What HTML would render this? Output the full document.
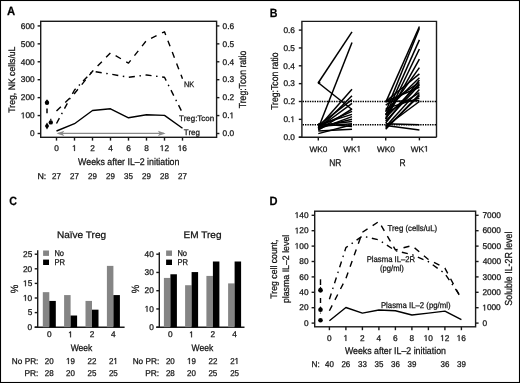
<!DOCTYPE html>
<html><head><meta charset="utf-8"><style>
html,body{margin:0;padding:0;background:#fff;}
svg{display:block;will-change:transform;}
text{font-family:"Liberation Sans", sans-serif;text-rendering:geometricPrecision;stroke:#111;stroke-width:0.25px;}
</style></head><body>
<svg width="520" height="383" viewBox="0 0 520 383">
<rect width="520" height="383" fill="#fff"/>
<rect x="0.5" y="0.5" width="519" height="382" fill="none" stroke="#000" stroke-width="1.1"/>
<text x="7.07" y="15.40" font-size="12" font-weight="bold" textLength="8.18" lengthAdjust="spacingAndGlyphs" fill="#000" >A</text>
<rect x="40.7" y="21.3" width="175.9" height="116" fill="none" stroke="#1a1a1a" stroke-width="1.4"/>
<line x1="37.60" y1="133.50" x2="40.70" y2="133.50" stroke="#1a1a1a" stroke-width="1.4" />
<line x1="216.50" y1="133.50" x2="219.40" y2="133.50" stroke="#1a1a1a" stroke-width="1.4" />
<text x="30.01" y="136.25" font-size="8.3" font-weight="normal" textLength="4.62" lengthAdjust="spacingAndGlyphs" fill="#111" >0</text>
<text x="222.58" y="136.25" font-size="8.3" font-weight="normal" textLength="11.54" lengthAdjust="spacingAndGlyphs" fill="#111" >0.0</text>
<line x1="37.60" y1="115.57" x2="40.70" y2="115.57" stroke="#1a1a1a" stroke-width="1.4" />
<line x1="216.50" y1="115.57" x2="219.40" y2="115.57" stroke="#1a1a1a" stroke-width="1.4" />
<path transform="translate(20.776,118.320) scale(0.004053,-0.004053)" d="M515,0 L515,1237 L197,1010 L197,1180 L530,1409 L696,1409 L696,0 Z" fill="#111" stroke="#111" stroke-width="0.25" vector-effect="non-scaling-stroke"/>
<text x="20.78" y="118.32" font-size="8.3" font-weight="normal" textLength="13.85" lengthAdjust="spacingAndGlyphs" fill="#111" > 00</text>
<path transform="translate(229.498,118.320) scale(0.004053,-0.004053)" d="M515,0 L515,1237 L197,1010 L197,1180 L530,1409 L696,1409 L696,0 Z" fill="#111" stroke="#111" stroke-width="0.25" vector-effect="non-scaling-stroke"/>
<text x="222.58" y="118.32" font-size="8.3" font-weight="normal" textLength="11.54" lengthAdjust="spacingAndGlyphs" fill="#111" >0. </text>
<line x1="37.60" y1="97.64" x2="40.70" y2="97.64" stroke="#1a1a1a" stroke-width="1.4" />
<line x1="216.50" y1="97.64" x2="219.40" y2="97.64" stroke="#1a1a1a" stroke-width="1.4" />
<text x="20.78" y="100.39" font-size="8.3" font-weight="normal" textLength="13.85" lengthAdjust="spacingAndGlyphs" fill="#111" >200</text>
<text x="222.58" y="100.39" font-size="8.3" font-weight="normal" textLength="11.54" lengthAdjust="spacingAndGlyphs" fill="#111" >0.2</text>
<line x1="37.60" y1="79.71" x2="40.70" y2="79.71" stroke="#1a1a1a" stroke-width="1.4" />
<line x1="216.50" y1="79.71" x2="219.40" y2="79.71" stroke="#1a1a1a" stroke-width="1.4" />
<text x="20.78" y="82.46" font-size="8.3" font-weight="normal" textLength="13.85" lengthAdjust="spacingAndGlyphs" fill="#111" >300</text>
<text x="222.58" y="82.46" font-size="8.3" font-weight="normal" textLength="11.54" lengthAdjust="spacingAndGlyphs" fill="#111" >0.3</text>
<line x1="37.60" y1="61.78" x2="40.70" y2="61.78" stroke="#1a1a1a" stroke-width="1.4" />
<line x1="216.50" y1="61.78" x2="219.40" y2="61.78" stroke="#1a1a1a" stroke-width="1.4" />
<text x="20.78" y="64.53" font-size="8.3" font-weight="normal" textLength="13.85" lengthAdjust="spacingAndGlyphs" fill="#111" >400</text>
<text x="222.58" y="64.53" font-size="8.3" font-weight="normal" textLength="11.54" lengthAdjust="spacingAndGlyphs" fill="#111" >0.4</text>
<line x1="37.60" y1="43.85" x2="40.70" y2="43.85" stroke="#1a1a1a" stroke-width="1.4" />
<line x1="216.50" y1="43.85" x2="219.40" y2="43.85" stroke="#1a1a1a" stroke-width="1.4" />
<text x="20.78" y="46.60" font-size="8.3" font-weight="normal" textLength="13.85" lengthAdjust="spacingAndGlyphs" fill="#111" >500</text>
<text x="222.58" y="46.60" font-size="8.3" font-weight="normal" textLength="11.54" lengthAdjust="spacingAndGlyphs" fill="#111" >0.5</text>
<line x1="37.60" y1="25.92" x2="40.70" y2="25.92" stroke="#1a1a1a" stroke-width="1.4" />
<line x1="216.50" y1="25.92" x2="219.40" y2="25.92" stroke="#1a1a1a" stroke-width="1.4" />
<text x="20.78" y="28.67" font-size="8.3" font-weight="normal" textLength="13.85" lengthAdjust="spacingAndGlyphs" fill="#111" >600</text>
<text x="222.58" y="28.67" font-size="8.3" font-weight="normal" textLength="11.54" lengthAdjust="spacingAndGlyphs" fill="#111" >0.6</text>
<line x1="56.50" y1="137.30" x2="56.50" y2="140.60" stroke="#1a1a1a" stroke-width="1.4" />
<text x="54.19" y="151.00" font-size="8.3" font-weight="normal" textLength="4.62" lengthAdjust="spacingAndGlyphs" fill="#111" >0</text>
<text x="52.06" y="178.60" font-size="8.4" font-weight="normal" textLength="8.88" lengthAdjust="spacingAndGlyphs" fill="#111" >27</text>
<line x1="74.50" y1="137.30" x2="74.50" y2="140.60" stroke="#1a1a1a" stroke-width="1.4" />
<path transform="translate(72.078,151.000) scale(0.004053,-0.004053)" d="M515,0 L515,1237 L197,1010 L197,1180 L530,1409 L696,1409 L696,0 Z" fill="#111" stroke="#111" stroke-width="0.25" vector-effect="non-scaling-stroke"/>
<text x="72.08" y="151.00" font-size="8.3" font-weight="normal" textLength="4.62" lengthAdjust="spacingAndGlyphs" fill="#111" > </text>
<text x="70.06" y="178.60" font-size="8.4" font-weight="normal" textLength="8.88" lengthAdjust="spacingAndGlyphs" fill="#111" >27</text>
<line x1="92.50" y1="137.30" x2="92.50" y2="140.60" stroke="#1a1a1a" stroke-width="1.4" />
<text x="90.19" y="151.00" font-size="8.3" font-weight="normal" textLength="4.62" lengthAdjust="spacingAndGlyphs" fill="#111" >2</text>
<text x="88.05" y="178.60" font-size="8.4" font-weight="normal" textLength="8.88" lengthAdjust="spacingAndGlyphs" fill="#111" >29</text>
<line x1="110.50" y1="137.30" x2="110.50" y2="140.60" stroke="#1a1a1a" stroke-width="1.4" />
<text x="108.22" y="151.00" font-size="8.3" font-weight="normal" textLength="4.62" lengthAdjust="spacingAndGlyphs" fill="#111" >4</text>
<text x="106.05" y="178.60" font-size="8.4" font-weight="normal" textLength="8.88" lengthAdjust="spacingAndGlyphs" fill="#111" >29</text>
<line x1="128.50" y1="137.30" x2="128.50" y2="140.60" stroke="#1a1a1a" stroke-width="1.4" />
<text x="126.16" y="151.00" font-size="8.3" font-weight="normal" textLength="4.62" lengthAdjust="spacingAndGlyphs" fill="#111" >6</text>
<text x="124.08" y="178.60" font-size="8.4" font-weight="normal" textLength="8.88" lengthAdjust="spacingAndGlyphs" fill="#111" >35</text>
<line x1="146.50" y1="137.30" x2="146.50" y2="140.60" stroke="#1a1a1a" stroke-width="1.4" />
<text x="144.19" y="151.00" font-size="8.3" font-weight="normal" textLength="4.62" lengthAdjust="spacingAndGlyphs" fill="#111" >8</text>
<text x="142.05" y="178.60" font-size="8.4" font-weight="normal" textLength="8.88" lengthAdjust="spacingAndGlyphs" fill="#111" >29</text>
<line x1="164.50" y1="137.30" x2="164.50" y2="140.60" stroke="#1a1a1a" stroke-width="1.4" />
<path transform="translate(159.777,151.000) scale(0.004053,-0.004053)" d="M515,0 L515,1237 L197,1010 L197,1180 L530,1409 L696,1409 L696,0 Z" fill="#111" stroke="#111" stroke-width="0.25" vector-effect="non-scaling-stroke"/>
<text x="159.78" y="151.00" font-size="8.3" font-weight="normal" textLength="9.23" lengthAdjust="spacingAndGlyphs" fill="#111" > 2</text>
<text x="160.03" y="178.60" font-size="8.4" font-weight="normal" textLength="8.88" lengthAdjust="spacingAndGlyphs" fill="#111" >28</text>
<line x1="182.50" y1="137.30" x2="182.50" y2="140.60" stroke="#1a1a1a" stroke-width="1.4" />
<path transform="translate(177.750,151.000) scale(0.004053,-0.004053)" d="M515,0 L515,1237 L197,1010 L197,1180 L530,1409 L696,1409 L696,0 Z" fill="#111" stroke="#111" stroke-width="0.25" vector-effect="non-scaling-stroke"/>
<text x="177.75" y="151.00" font-size="8.3" font-weight="normal" textLength="9.23" lengthAdjust="spacingAndGlyphs" fill="#111" > 6</text>
<text x="178.06" y="178.60" font-size="8.4" font-weight="normal" textLength="8.88" lengthAdjust="spacingAndGlyphs" fill="#111" >27</text>
<text x="37.43" y="178.60" font-size="8.4" font-weight="normal" textLength="8.83" lengthAdjust="spacingAndGlyphs" fill="#111" >N:</text>
<text x="78.11" y="164.80" font-size="9.7" font-weight="normal" textLength="101.31" lengthAdjust="spacingAndGlyphs" fill="#111" >Weeks after IL–2 initiation</text>
<text transform="translate(15.20,112.45) rotate(-90)" x="-0.19" y="0" font-size="9.4" font-weight="normal" textLength="66.08" lengthAdjust="spacingAndGlyphs" fill="#111" >Treg, NK cells/uL</text>
<text transform="translate(246.10,108.15) rotate(-90)" x="-0.19" y="0" font-size="10.2" font-weight="normal" textLength="57.65" lengthAdjust="spacingAndGlyphs" fill="#111" >Treg:Tcon ratio</text>
<text x="184.05" y="87.00" font-size="8.0" font-weight="normal" textLength="10.18" lengthAdjust="spacingAndGlyphs" fill="#111" >NK</text>
<text x="179.08" y="121.30" font-size="8.0" font-weight="normal" textLength="35.07" lengthAdjust="spacingAndGlyphs" fill="#111" >Treg:Tcon</text>
<text x="183.87" y="134.60" font-size="8.0" font-weight="normal" textLength="16.08" lengthAdjust="spacingAndGlyphs" fill="#111" >Treg</text>
<polyline points="56.50,131.00 74.50,123.70 92.50,110.50 110.50,108.80 128.50,117.80 146.50,114.70 164.50,115.40 182.50,128.30" fill="none" stroke="#000" stroke-width="1.4" stroke-linejoin="round" />
<polyline points="56.50,111.00 74.50,93.50 92.50,71.30 110.50,52.80 128.50,63.10 146.50,40.50 164.50,31.80 182.50,78.80" fill="none" stroke="#000" stroke-width="1.4" stroke-dasharray="6.1,6.1" stroke-linejoin="round" />
<polyline points="56.50,123.50 74.50,90.00 92.50,71.30 110.50,74.10 128.50,77.30 146.50,75.00 164.50,77.30 182.50,113.00" fill="none" stroke="#000" stroke-width="1.4" stroke-dasharray="6.1,4.6,1.5,4.6" stroke-linejoin="round" />
<circle cx="47" cy="102.8" r="2.2" fill="#000"/>
<path d="M45.3,101.6 L47,99.2 L48.7,101.6 Z" fill="#000"/>
<path d="M47,122.5 L49.1,126.0 L47,129.6 L44.9,126.0 Z" fill="#000"/>
<line x1="47.00" y1="108.60" x2="47.00" y2="113.30" stroke="#000" stroke-width="1.5" />
<circle cx="50.8" cy="122.4" r="2.2" fill="#000"/>
<line x1="50.80" y1="118.80" x2="50.80" y2="120.50" stroke="#000" stroke-width="1.2" />
<line x1="58.00" y1="133.40" x2="164.00" y2="133.40" stroke="#8a8a8a" stroke-width="1.3" />
<path d="M56.6,133.4 L64.3,130.7 L62.5,133.4 L64.3,136.1 Z" fill="#8a8a8a"/>
<path d="M165.6,133.4 L157.9,130.7 L159.7,133.4 L157.9,136.1 Z" fill="#8a8a8a"/>
<text x="269.74" y="17.00" font-size="12" font-weight="bold" textLength="7.70" lengthAdjust="spacingAndGlyphs" fill="#000" >B</text>
<line x1="298.80" y1="137.20" x2="436.50" y2="137.20" stroke="#1a1a1a" stroke-width="1.4" />
<polyline points="301.9,137.2 301.9,21.4 436.5,21.4 436.5,137.2" fill="none" stroke="#1a1a1a" stroke-width="1.4"/>
<line x1="298.80" y1="137.20" x2="302.00" y2="137.20" stroke="#1a1a1a" stroke-width="1.4" />
<text x="283.39" y="139.95" font-size="8.3" font-weight="normal" textLength="11.54" lengthAdjust="spacingAndGlyphs" fill="#111" >0.0</text>
<line x1="298.80" y1="119.35" x2="302.00" y2="119.35" stroke="#1a1a1a" stroke-width="1.4" />
<path transform="translate(290.389,122.100) scale(0.004053,-0.004053)" d="M515,0 L515,1237 L197,1010 L197,1180 L530,1409 L696,1409 L696,0 Z" fill="#111" stroke="#111" stroke-width="0.25" vector-effect="non-scaling-stroke"/>
<text x="283.47" y="122.10" font-size="8.3" font-weight="normal" textLength="11.54" lengthAdjust="spacingAndGlyphs" fill="#111" >0. </text>
<line x1="298.80" y1="101.50" x2="302.00" y2="101.50" stroke="#1a1a1a" stroke-width="1.4" />
<text x="283.48" y="104.25" font-size="8.3" font-weight="normal" textLength="11.54" lengthAdjust="spacingAndGlyphs" fill="#111" >0.2</text>
<line x1="298.80" y1="83.65" x2="302.00" y2="83.65" stroke="#1a1a1a" stroke-width="1.4" />
<text x="283.43" y="86.40" font-size="8.3" font-weight="normal" textLength="11.54" lengthAdjust="spacingAndGlyphs" fill="#111" >0.3</text>
<line x1="298.80" y1="65.80" x2="302.00" y2="65.80" stroke="#1a1a1a" stroke-width="1.4" />
<text x="283.31" y="68.55" font-size="8.3" font-weight="normal" textLength="11.54" lengthAdjust="spacingAndGlyphs" fill="#111" >0.4</text>
<line x1="298.80" y1="47.95" x2="302.00" y2="47.95" stroke="#1a1a1a" stroke-width="1.4" />
<text x="283.41" y="50.70" font-size="8.3" font-weight="normal" textLength="11.54" lengthAdjust="spacingAndGlyphs" fill="#111" >0.5</text>
<line x1="298.80" y1="30.10" x2="302.00" y2="30.10" stroke="#1a1a1a" stroke-width="1.4" />
<text x="283.43" y="32.85" font-size="8.3" font-weight="normal" textLength="11.54" lengthAdjust="spacingAndGlyphs" fill="#111" >0.6</text>
<line x1="318.30" y1="137.20" x2="318.30" y2="140.40" stroke="#1a1a1a" stroke-width="1.4" />
<text x="309.51" y="151.50" font-size="8.0" font-weight="normal" textLength="17.86" lengthAdjust="spacingAndGlyphs" fill="#111" >WK0</text>
<line x1="352.00" y1="137.20" x2="352.00" y2="140.40" stroke="#1a1a1a" stroke-width="1.4" />
<path transform="translate(356.528,151.500) scale(0.004023,-0.003906)" d="M515,0 L515,1237 L197,1010 L197,1180 L530,1409 L696,1409 L696,0 Z" fill="#111" stroke="#111" stroke-width="0.25" vector-effect="non-scaling-stroke"/>
<text x="343.26" y="151.50" font-size="8.0" font-weight="normal" textLength="17.86" lengthAdjust="spacingAndGlyphs" fill="#111" >WK </text>
<line x1="385.70" y1="137.20" x2="385.70" y2="140.40" stroke="#1a1a1a" stroke-width="1.4" />
<text x="376.91" y="151.50" font-size="8.0" font-weight="normal" textLength="17.86" lengthAdjust="spacingAndGlyphs" fill="#111" >WK0</text>
<line x1="419.40" y1="137.20" x2="419.40" y2="140.40" stroke="#1a1a1a" stroke-width="1.4" />
<path transform="translate(423.928,151.500) scale(0.004023,-0.003906)" d="M515,0 L515,1237 L197,1010 L197,1180 L530,1409 L696,1409 L696,0 Z" fill="#111" stroke="#111" stroke-width="0.25" vector-effect="non-scaling-stroke"/>
<text x="410.66" y="151.50" font-size="8.0" font-weight="normal" textLength="17.86" lengthAdjust="spacingAndGlyphs" fill="#111" >WK </text>
<text x="329.26" y="165.80" font-size="9.8" font-weight="normal" textLength="12.17" lengthAdjust="spacingAndGlyphs" fill="#111" >NR</text>
<text x="399.51" y="165.80" font-size="9.8" font-weight="normal" textLength="6.09" lengthAdjust="spacingAndGlyphs" fill="#111" >R</text>
<text transform="translate(277.70,109.65) rotate(-90)" x="-0.19" y="0" font-size="10.0" font-weight="normal" textLength="57.35" lengthAdjust="spacingAndGlyphs" fill="#111" >Treg:Tcon ratio</text>
<line x1="302.60" y1="101.50" x2="436.00" y2="101.50" stroke="#000" stroke-width="1.5" stroke-dasharray="1.4,1.0"/>
<line x1="302.60" y1="124.70" x2="436.00" y2="124.70" stroke="#000" stroke-width="1.5" stroke-dasharray="1.4,1.0"/>
<line x1="318.30" y1="82.76" x2="352.00" y2="31.88" stroke="#000" stroke-width="1.5" />
<line x1="318.30" y1="82.76" x2="352.00" y2="109.53" stroke="#000" stroke-width="1.5" />
<line x1="318.30" y1="128.27" x2="352.00" y2="42.59" stroke="#000" stroke-width="1.5" />
<line x1="318.30" y1="127.38" x2="352.00" y2="89.36" stroke="#000" stroke-width="1.5" />
<line x1="318.30" y1="129.17" x2="352.00" y2="95.79" stroke="#000" stroke-width="1.5" />
<line x1="318.30" y1="125.60" x2="352.00" y2="99.71" stroke="#000" stroke-width="1.5" />
<line x1="318.30" y1="128.27" x2="352.00" y2="103.28" stroke="#000" stroke-width="1.5" />
<line x1="318.30" y1="130.06" x2="352.00" y2="109.00" stroke="#000" stroke-width="1.5" />
<line x1="318.30" y1="126.49" x2="352.00" y2="111.32" stroke="#000" stroke-width="1.5" />
<line x1="318.30" y1="124.70" x2="352.00" y2="114.35" stroke="#000" stroke-width="1.5" />
<line x1="318.30" y1="129.17" x2="352.00" y2="116.67" stroke="#000" stroke-width="1.5" />
<line x1="318.30" y1="127.38" x2="352.00" y2="119.35" stroke="#000" stroke-width="1.5" />
<line x1="318.30" y1="125.60" x2="352.00" y2="121.49" stroke="#000" stroke-width="1.5" />
<line x1="318.30" y1="133.63" x2="352.00" y2="124.70" stroke="#000" stroke-width="1.5" />
<line x1="318.30" y1="123.81" x2="352.00" y2="126.49" stroke="#000" stroke-width="1.5" />
<line x1="318.30" y1="130.95" x2="352.00" y2="129.17" stroke="#000" stroke-width="1.5" />
<line x1="318.30" y1="126.49" x2="352.00" y2="123.81" stroke="#000" stroke-width="1.5" />
<line x1="385.70" y1="102.39" x2="419.40" y2="26.53" stroke="#000" stroke-width="1.5" />
<line x1="385.70" y1="111.85" x2="419.40" y2="28.31" stroke="#000" stroke-width="1.5" />
<line x1="385.70" y1="115.42" x2="419.40" y2="39.92" stroke="#000" stroke-width="1.5" />
<line x1="385.70" y1="118.81" x2="419.40" y2="49.02" stroke="#000" stroke-width="1.5" />
<line x1="385.70" y1="119.35" x2="419.40" y2="59.02" stroke="#000" stroke-width="1.5" />
<line x1="385.70" y1="114.71" x2="419.40" y2="67.58" stroke="#000" stroke-width="1.5" />
<line x1="385.70" y1="101.50" x2="419.40" y2="73.83" stroke="#000" stroke-width="1.5" />
<line x1="385.70" y1="110.42" x2="419.40" y2="77.76" stroke="#000" stroke-width="1.5" />
<line x1="385.70" y1="122.92" x2="419.40" y2="80.08" stroke="#000" stroke-width="1.5" />
<line x1="385.70" y1="105.07" x2="419.40" y2="82.40" stroke="#000" stroke-width="1.5" />
<line x1="385.70" y1="121.13" x2="419.40" y2="84.90" stroke="#000" stroke-width="1.5" />
<line x1="385.70" y1="101.50" x2="419.40" y2="87.22" stroke="#000" stroke-width="1.5" />
<line x1="385.70" y1="126.49" x2="419.40" y2="89.54" stroke="#000" stroke-width="1.5" />
<line x1="385.70" y1="113.99" x2="419.40" y2="92.57" stroke="#000" stroke-width="1.5" />
<line x1="385.70" y1="128.27" x2="419.40" y2="95.79" stroke="#000" stroke-width="1.5" />
<line x1="385.70" y1="108.64" x2="419.40" y2="98.11" stroke="#000" stroke-width="1.5" />
<line x1="385.70" y1="126.49" x2="419.40" y2="101.50" stroke="#000" stroke-width="1.5" />
<line x1="385.70" y1="123.81" x2="419.40" y2="124.70" stroke="#000" stroke-width="1.5" />
<line x1="385.70" y1="125.60" x2="419.40" y2="130.06" stroke="#000" stroke-width="1.5" />
<line x1="385.70" y1="129.17" x2="419.40" y2="94.36" stroke="#000" stroke-width="1.5" />
<line x1="385.70" y1="101.50" x2="419.40" y2="100.61" stroke="#000" stroke-width="1.5" />
<line x1="385.70" y1="117.56" x2="419.40" y2="83.65" stroke="#000" stroke-width="1.5" />
<circle cx="319" cy="82.8" r="1.4" fill="#000"/>
<text x="9.21" y="204.60" font-size="12" font-weight="bold" textLength="7.73" lengthAdjust="spacingAndGlyphs" fill="#000" >C</text>
<line x1="37.70" y1="250.30" x2="37.70" y2="327.20" stroke="#1a1a1a" stroke-width="1.4" />
<line x1="34.70" y1="327.20" x2="124.60" y2="327.20" stroke="#1a1a1a" stroke-width="1.4" />
<line x1="34.70" y1="327.20" x2="37.70" y2="327.20" stroke="#1a1a1a" stroke-width="1.4" />
<text x="27.61" y="329.95" font-size="8.3" font-weight="normal" textLength="4.62" lengthAdjust="spacingAndGlyphs" fill="#111" >0</text>
<line x1="34.70" y1="312.60" x2="37.70" y2="312.60" stroke="#1a1a1a" stroke-width="1.4" />
<text x="27.63" y="315.35" font-size="8.3" font-weight="normal" textLength="4.62" lengthAdjust="spacingAndGlyphs" fill="#111" >5</text>
<line x1="34.70" y1="298.00" x2="37.70" y2="298.00" stroke="#1a1a1a" stroke-width="1.4" />
<path transform="translate(22.992,300.750) scale(0.004053,-0.004053)" d="M515,0 L515,1237 L197,1010 L197,1180 L530,1409 L696,1409 L696,0 Z" fill="#111" stroke="#111" stroke-width="0.25" vector-effect="non-scaling-stroke"/>
<text x="22.99" y="300.75" font-size="8.3" font-weight="normal" textLength="9.23" lengthAdjust="spacingAndGlyphs" fill="#111" > 0</text>
<line x1="34.70" y1="283.40" x2="37.70" y2="283.40" stroke="#1a1a1a" stroke-width="1.4" />
<path transform="translate(23.016,286.150) scale(0.004053,-0.004053)" d="M515,0 L515,1237 L197,1010 L197,1180 L530,1409 L696,1409 L696,0 Z" fill="#111" stroke="#111" stroke-width="0.25" vector-effect="non-scaling-stroke"/>
<text x="23.02" y="286.15" font-size="8.3" font-weight="normal" textLength="9.23" lengthAdjust="spacingAndGlyphs" fill="#111" > 5</text>
<line x1="34.70" y1="268.80" x2="37.70" y2="268.80" stroke="#1a1a1a" stroke-width="1.4" />
<text x="22.99" y="271.55" font-size="8.3" font-weight="normal" textLength="9.23" lengthAdjust="spacingAndGlyphs" fill="#111" >20</text>
<line x1="34.70" y1="254.20" x2="37.70" y2="254.20" stroke="#1a1a1a" stroke-width="1.4" />
<text x="23.02" y="256.95" font-size="8.3" font-weight="normal" textLength="9.23" lengthAdjust="spacingAndGlyphs" fill="#111" >25</text>
<rect x="42.80" y="292.16" width="6.50" height="35.04" fill="#858585"/>
<rect x="49.30" y="300.92" width="6.50" height="26.28" fill="#000"/>
<text x="46.99" y="337.30" font-size="8.3" font-weight="normal" textLength="4.62" lengthAdjust="spacingAndGlyphs" fill="#111" >0</text>
<text x="44.82" y="363.90" font-size="8.4" font-weight="normal" textLength="8.88" lengthAdjust="spacingAndGlyphs" fill="#111" >20</text>
<text x="44.83" y="375.80" font-size="8.4" font-weight="normal" textLength="8.88" lengthAdjust="spacingAndGlyphs" fill="#111" >28</text>
<rect x="64.10" y="295.08" width="6.50" height="32.12" fill="#858585"/>
<rect x="70.60" y="315.52" width="6.50" height="11.68" fill="#000"/>
<path transform="translate(68.178,337.300) scale(0.004053,-0.004053)" d="M515,0 L515,1237 L197,1010 L197,1180 L530,1409 L696,1409 L696,0 Z" fill="#111" stroke="#111" stroke-width="0.25" vector-effect="non-scaling-stroke"/>
<text x="68.18" y="337.30" font-size="8.3" font-weight="normal" textLength="4.62" lengthAdjust="spacingAndGlyphs" fill="#111" > </text>
<path transform="translate(66.047,363.900) scale(0.003896,-0.004102)" d="M515,0 L515,1237 L197,1010 L197,1180 L530,1409 L696,1409 L696,0 Z" fill="#111" stroke="#111" stroke-width="0.25" vector-effect="non-scaling-stroke"/>
<text x="66.05" y="363.90" font-size="8.4" font-weight="normal" textLength="8.88" lengthAdjust="spacingAndGlyphs" fill="#111" > 9</text>
<text x="66.12" y="375.80" font-size="8.4" font-weight="normal" textLength="8.88" lengthAdjust="spacingAndGlyphs" fill="#111" >20</text>
<rect x="85.50" y="300.92" width="6.50" height="26.28" fill="#858585"/>
<rect x="92.00" y="309.68" width="6.50" height="17.52" fill="#000"/>
<text x="89.69" y="337.30" font-size="8.3" font-weight="normal" textLength="4.62" lengthAdjust="spacingAndGlyphs" fill="#111" >2</text>
<text x="87.56" y="363.90" font-size="8.4" font-weight="normal" textLength="8.88" lengthAdjust="spacingAndGlyphs" fill="#111" >22</text>
<text x="87.53" y="375.80" font-size="8.4" font-weight="normal" textLength="8.88" lengthAdjust="spacingAndGlyphs" fill="#111" >25</text>
<rect x="106.90" y="265.88" width="6.50" height="61.32" fill="#858585"/>
<rect x="113.40" y="295.08" width="6.50" height="32.12" fill="#000"/>
<text x="111.12" y="337.30" font-size="8.3" font-weight="normal" textLength="4.62" lengthAdjust="spacingAndGlyphs" fill="#111" >4</text>
<path transform="translate(113.394,363.900) scale(0.003896,-0.004102)" d="M515,0 L515,1237 L197,1010 L197,1180 L530,1409 L696,1409 L696,0 Z" fill="#111" stroke="#111" stroke-width="0.25" vector-effect="non-scaling-stroke"/>
<text x="108.96" y="363.90" font-size="8.4" font-weight="normal" textLength="8.88" lengthAdjust="spacingAndGlyphs" fill="#111" >2 </text>
<text x="108.93" y="375.80" font-size="8.4" font-weight="normal" textLength="8.88" lengthAdjust="spacingAndGlyphs" fill="#111" >25</text>
<text x="56.93" y="237.90" font-size="9.6" font-weight="normal" textLength="49.26" lengthAdjust="spacingAndGlyphs" fill="#111" >Naïve Treg</text>
<text x="70.66" y="351.20" font-size="9.4" font-weight="normal" textLength="21.63" lengthAdjust="spacingAndGlyphs" fill="#111" >Week</text>
<text transform="translate(17.70,292.85) rotate(-90)" x="-0.34" y="0" font-size="10.5" font-weight="normal" textLength="8.59" lengthAdjust="spacingAndGlyphs" fill="#111" >%</text>
<rect x="43.10" y="250.50" width="5.90" height="5.40" fill="#858585"/>
<rect x="43.10" y="259.60" width="5.90" height="5.40" fill="#000"/>
<text x="54.43" y="255.90" font-size="8.4" font-weight="normal" textLength="9.63" lengthAdjust="spacingAndGlyphs" fill="#111" >No</text>
<text x="54.43" y="265.00" font-size="8.4" font-weight="normal" textLength="10.58" lengthAdjust="spacingAndGlyphs" fill="#111" >PR</text>
<text x="11.87" y="363.90" font-size="8.4" font-weight="normal" textLength="26.53" lengthAdjust="spacingAndGlyphs" fill="#111" >No PR:</text>
<text x="24.46" y="375.80" font-size="8.4" font-weight="normal" textLength="13.95" lengthAdjust="spacingAndGlyphs" fill="#111" >PR:</text>
<line x1="159.30" y1="252.20" x2="159.30" y2="327.20" stroke="#1a1a1a" stroke-width="1.4" />
<line x1="156.30" y1="327.20" x2="244.50" y2="327.20" stroke="#1a1a1a" stroke-width="1.4" />
<line x1="156.30" y1="327.20" x2="159.30" y2="327.20" stroke="#1a1a1a" stroke-width="1.4" />
<text x="149.21" y="329.95" font-size="8.3" font-weight="normal" textLength="4.62" lengthAdjust="spacingAndGlyphs" fill="#111" >0</text>
<line x1="156.30" y1="308.95" x2="159.30" y2="308.95" stroke="#1a1a1a" stroke-width="1.4" />
<path transform="translate(144.592,311.700) scale(0.004053,-0.004053)" d="M515,0 L515,1237 L197,1010 L197,1180 L530,1409 L696,1409 L696,0 Z" fill="#111" stroke="#111" stroke-width="0.25" vector-effect="non-scaling-stroke"/>
<text x="144.59" y="311.70" font-size="8.3" font-weight="normal" textLength="9.23" lengthAdjust="spacingAndGlyphs" fill="#111" > 0</text>
<line x1="156.30" y1="290.70" x2="159.30" y2="290.70" stroke="#1a1a1a" stroke-width="1.4" />
<text x="144.59" y="293.45" font-size="8.3" font-weight="normal" textLength="9.23" lengthAdjust="spacingAndGlyphs" fill="#111" >20</text>
<line x1="156.30" y1="272.45" x2="159.30" y2="272.45" stroke="#1a1a1a" stroke-width="1.4" />
<text x="144.59" y="275.20" font-size="8.3" font-weight="normal" textLength="9.23" lengthAdjust="spacingAndGlyphs" fill="#111" >30</text>
<line x1="156.30" y1="254.20" x2="159.30" y2="254.20" stroke="#1a1a1a" stroke-width="1.4" />
<text x="144.59" y="256.95" font-size="8.3" font-weight="normal" textLength="9.23" lengthAdjust="spacingAndGlyphs" fill="#111" >40</text>
<rect x="163.90" y="277.93" width="6.50" height="49.27" fill="#858585"/>
<rect x="170.40" y="274.27" width="6.50" height="52.92" fill="#000"/>
<text x="168.09" y="337.30" font-size="8.3" font-weight="normal" textLength="4.62" lengthAdjust="spacingAndGlyphs" fill="#111" >0</text>
<text x="165.92" y="363.90" font-size="8.4" font-weight="normal" textLength="8.88" lengthAdjust="spacingAndGlyphs" fill="#111" >20</text>
<text x="165.93" y="375.80" font-size="8.4" font-weight="normal" textLength="8.88" lengthAdjust="spacingAndGlyphs" fill="#111" >28</text>
<rect x="185.10" y="285.22" width="6.50" height="41.98" fill="#858585"/>
<rect x="191.60" y="272.08" width="6.50" height="55.11" fill="#000"/>
<path transform="translate(189.178,337.300) scale(0.004053,-0.004053)" d="M515,0 L515,1237 L197,1010 L197,1180 L530,1409 L696,1409 L696,0 Z" fill="#111" stroke="#111" stroke-width="0.25" vector-effect="non-scaling-stroke"/>
<text x="189.18" y="337.30" font-size="8.3" font-weight="normal" textLength="4.62" lengthAdjust="spacingAndGlyphs" fill="#111" > </text>
<path transform="translate(187.047,363.900) scale(0.003896,-0.004102)" d="M515,0 L515,1237 L197,1010 L197,1180 L530,1409 L696,1409 L696,0 Z" fill="#111" stroke="#111" stroke-width="0.25" vector-effect="non-scaling-stroke"/>
<text x="187.05" y="363.90" font-size="8.4" font-weight="normal" textLength="8.88" lengthAdjust="spacingAndGlyphs" fill="#111" > 9</text>
<text x="187.12" y="375.80" font-size="8.4" font-weight="normal" textLength="8.88" lengthAdjust="spacingAndGlyphs" fill="#111" >20</text>
<rect x="206.40" y="275.92" width="6.50" height="51.28" fill="#858585"/>
<rect x="212.90" y="261.50" width="6.50" height="65.70" fill="#000"/>
<text x="210.59" y="337.30" font-size="8.3" font-weight="normal" textLength="4.62" lengthAdjust="spacingAndGlyphs" fill="#111" >2</text>
<text x="208.46" y="363.90" font-size="8.4" font-weight="normal" textLength="8.88" lengthAdjust="spacingAndGlyphs" fill="#111" >22</text>
<text x="208.43" y="375.80" font-size="8.4" font-weight="normal" textLength="8.88" lengthAdjust="spacingAndGlyphs" fill="#111" >25</text>
<rect x="228.10" y="283.40" width="6.50" height="43.80" fill="#858585"/>
<rect x="234.60" y="261.50" width="6.50" height="65.70" fill="#000"/>
<text x="232.32" y="337.30" font-size="8.3" font-weight="normal" textLength="4.62" lengthAdjust="spacingAndGlyphs" fill="#111" >4</text>
<path transform="translate(234.594,363.900) scale(0.003896,-0.004102)" d="M515,0 L515,1237 L197,1010 L197,1180 L530,1409 L696,1409 L696,0 Z" fill="#111" stroke="#111" stroke-width="0.25" vector-effect="non-scaling-stroke"/>
<text x="230.16" y="363.90" font-size="8.4" font-weight="normal" textLength="8.88" lengthAdjust="spacingAndGlyphs" fill="#111" >2 </text>
<text x="230.13" y="375.80" font-size="8.4" font-weight="normal" textLength="8.88" lengthAdjust="spacingAndGlyphs" fill="#111" >25</text>
<text x="183.54" y="237.90" font-size="9.6" font-weight="normal" textLength="37.95" lengthAdjust="spacingAndGlyphs" fill="#111" >EM Treg</text>
<text x="191.61" y="351.20" font-size="9.4" font-weight="normal" textLength="21.63" lengthAdjust="spacingAndGlyphs" fill="#111" >Week</text>
<text transform="translate(138.70,292.95) rotate(-90)" x="-0.34" y="0" font-size="10.5" font-weight="normal" textLength="8.48" lengthAdjust="spacingAndGlyphs" fill="#111" >%</text>
<rect x="166.10" y="250.50" width="5.90" height="5.40" fill="#858585"/>
<rect x="166.10" y="259.60" width="5.90" height="5.40" fill="#000"/>
<text x="177.43" y="255.90" font-size="8.4" font-weight="normal" textLength="9.63" lengthAdjust="spacingAndGlyphs" fill="#111" >No</text>
<text x="177.43" y="265.00" font-size="8.4" font-weight="normal" textLength="10.58" lengthAdjust="spacingAndGlyphs" fill="#111" >PR</text>
<text x="132.67" y="363.90" font-size="8.4" font-weight="normal" textLength="26.53" lengthAdjust="spacingAndGlyphs" fill="#111" >No PR:</text>
<text x="145.26" y="375.80" font-size="8.4" font-weight="normal" textLength="13.95" lengthAdjust="spacingAndGlyphs" fill="#111" >PR:</text>
<text x="269.41" y="204.70" font-size="12" font-weight="bold" textLength="8.01" lengthAdjust="spacingAndGlyphs" fill="#000" >D</text>
<rect x="314.7" y="211.2" width="160.9" height="115.6" fill="none" stroke="#1a1a1a" stroke-width="1.4"/>
<line x1="311.60" y1="323.10" x2="314.70" y2="323.10" stroke="#1a1a1a" stroke-width="1.4" />
<line x1="475.60" y1="323.10" x2="478.60" y2="323.10" stroke="#1a1a1a" stroke-width="1.4" />
<text x="303.91" y="325.85" font-size="8.3" font-weight="normal" textLength="4.62" lengthAdjust="spacingAndGlyphs" fill="#111" >0</text>
<text x="482.58" y="325.85" font-size="8.3" font-weight="normal" textLength="4.62" lengthAdjust="spacingAndGlyphs" fill="#111" >0</text>
<line x1="311.60" y1="307.70" x2="314.70" y2="307.70" stroke="#1a1a1a" stroke-width="1.4" />
<line x1="475.60" y1="307.70" x2="478.60" y2="307.70" stroke="#1a1a1a" stroke-width="1.4" />
<text x="299.29" y="310.45" font-size="8.3" font-weight="normal" textLength="9.23" lengthAdjust="spacingAndGlyphs" fill="#111" >20</text>
<path transform="translate(482.268,310.450) scale(0.004053,-0.004053)" d="M515,0 L515,1237 L197,1010 L197,1180 L530,1409 L696,1409 L696,0 Z" fill="#111" stroke="#111" stroke-width="0.25" vector-effect="non-scaling-stroke"/>
<text x="482.27" y="310.45" font-size="8.3" font-weight="normal" textLength="18.46" lengthAdjust="spacingAndGlyphs" fill="#111" > 000</text>
<line x1="311.60" y1="292.30" x2="314.70" y2="292.30" stroke="#1a1a1a" stroke-width="1.4" />
<line x1="475.60" y1="292.30" x2="478.60" y2="292.30" stroke="#1a1a1a" stroke-width="1.4" />
<text x="299.29" y="295.05" font-size="8.3" font-weight="normal" textLength="9.23" lengthAdjust="spacingAndGlyphs" fill="#111" >40</text>
<text x="482.48" y="295.05" font-size="8.3" font-weight="normal" textLength="18.46" lengthAdjust="spacingAndGlyphs" fill="#111" >2000</text>
<line x1="311.60" y1="276.90" x2="314.70" y2="276.90" stroke="#1a1a1a" stroke-width="1.4" />
<line x1="475.60" y1="276.90" x2="478.60" y2="276.90" stroke="#1a1a1a" stroke-width="1.4" />
<text x="299.29" y="279.65" font-size="8.3" font-weight="normal" textLength="9.23" lengthAdjust="spacingAndGlyphs" fill="#111" >60</text>
<text x="482.58" y="279.65" font-size="8.3" font-weight="normal" textLength="18.46" lengthAdjust="spacingAndGlyphs" fill="#111" >3000</text>
<line x1="311.60" y1="261.50" x2="314.70" y2="261.50" stroke="#1a1a1a" stroke-width="1.4" />
<line x1="475.60" y1="261.50" x2="478.60" y2="261.50" stroke="#1a1a1a" stroke-width="1.4" />
<text x="299.29" y="264.25" font-size="8.3" font-weight="normal" textLength="9.23" lengthAdjust="spacingAndGlyphs" fill="#111" >80</text>
<text x="482.71" y="264.25" font-size="8.3" font-weight="normal" textLength="18.46" lengthAdjust="spacingAndGlyphs" fill="#111" >4000</text>
<line x1="311.60" y1="246.10" x2="314.70" y2="246.10" stroke="#1a1a1a" stroke-width="1.4" />
<line x1="475.60" y1="246.10" x2="478.60" y2="246.10" stroke="#1a1a1a" stroke-width="1.4" />
<path transform="translate(294.676,248.850) scale(0.004053,-0.004053)" d="M515,0 L515,1237 L197,1010 L197,1180 L530,1409 L696,1409 L696,0 Z" fill="#111" stroke="#111" stroke-width="0.25" vector-effect="non-scaling-stroke"/>
<text x="294.68" y="248.85" font-size="8.3" font-weight="normal" textLength="13.85" lengthAdjust="spacingAndGlyphs" fill="#111" > 00</text>
<text x="482.57" y="248.85" font-size="8.3" font-weight="normal" textLength="18.46" lengthAdjust="spacingAndGlyphs" fill="#111" >5000</text>
<line x1="311.60" y1="230.70" x2="314.70" y2="230.70" stroke="#1a1a1a" stroke-width="1.4" />
<line x1="475.60" y1="230.70" x2="478.60" y2="230.70" stroke="#1a1a1a" stroke-width="1.4" />
<path transform="translate(294.676,233.450) scale(0.004053,-0.004053)" d="M515,0 L515,1237 L197,1010 L197,1180 L530,1409 L696,1409 L696,0 Z" fill="#111" stroke="#111" stroke-width="0.25" vector-effect="non-scaling-stroke"/>
<text x="294.68" y="233.45" font-size="8.3" font-weight="normal" textLength="13.85" lengthAdjust="spacingAndGlyphs" fill="#111" > 20</text>
<text x="482.48" y="233.45" font-size="8.3" font-weight="normal" textLength="18.46" lengthAdjust="spacingAndGlyphs" fill="#111" >6000</text>
<line x1="311.60" y1="215.30" x2="314.70" y2="215.30" stroke="#1a1a1a" stroke-width="1.4" />
<line x1="475.60" y1="215.30" x2="478.60" y2="215.30" stroke="#1a1a1a" stroke-width="1.4" />
<path transform="translate(294.676,218.050) scale(0.004053,-0.004053)" d="M515,0 L515,1237 L197,1010 L197,1180 L530,1409 L696,1409 L696,0 Z" fill="#111" stroke="#111" stroke-width="0.25" vector-effect="non-scaling-stroke"/>
<text x="294.68" y="218.05" font-size="8.3" font-weight="normal" textLength="13.85" lengthAdjust="spacingAndGlyphs" fill="#111" > 40</text>
<text x="482.47" y="218.05" font-size="8.3" font-weight="normal" textLength="18.46" lengthAdjust="spacingAndGlyphs" fill="#111" >7000</text>
<line x1="329.40" y1="326.80" x2="329.40" y2="330.20" stroke="#1a1a1a" stroke-width="1.4" />
<text x="327.09" y="340.90" font-size="8.3" font-weight="normal" textLength="4.62" lengthAdjust="spacingAndGlyphs" fill="#111" >0</text>
<text x="325.03" y="366.80" font-size="8.4" font-weight="normal" textLength="8.88" lengthAdjust="spacingAndGlyphs" fill="#111" >40</text>
<line x1="345.90" y1="326.80" x2="345.90" y2="330.20" stroke="#1a1a1a" stroke-width="1.4" />
<path transform="translate(343.478,340.900) scale(0.004053,-0.004053)" d="M515,0 L515,1237 L197,1010 L197,1180 L530,1409 L696,1409 L696,0 Z" fill="#111" stroke="#111" stroke-width="0.25" vector-effect="non-scaling-stroke"/>
<text x="343.48" y="340.90" font-size="8.3" font-weight="normal" textLength="4.62" lengthAdjust="spacingAndGlyphs" fill="#111" > </text>
<text x="341.44" y="366.80" font-size="8.4" font-weight="normal" textLength="8.88" lengthAdjust="spacingAndGlyphs" fill="#111" >26</text>
<line x1="362.40" y1="326.80" x2="362.40" y2="330.20" stroke="#1a1a1a" stroke-width="1.4" />
<text x="360.09" y="340.90" font-size="8.3" font-weight="normal" textLength="4.62" lengthAdjust="spacingAndGlyphs" fill="#111" >2</text>
<text x="357.99" y="366.80" font-size="8.4" font-weight="normal" textLength="8.88" lengthAdjust="spacingAndGlyphs" fill="#111" >33</text>
<line x1="378.90" y1="326.80" x2="378.90" y2="330.20" stroke="#1a1a1a" stroke-width="1.4" />
<text x="376.62" y="340.90" font-size="8.3" font-weight="normal" textLength="4.62" lengthAdjust="spacingAndGlyphs" fill="#111" >4</text>
<text x="374.48" y="366.80" font-size="8.4" font-weight="normal" textLength="8.88" lengthAdjust="spacingAndGlyphs" fill="#111" >35</text>
<line x1="395.40" y1="326.80" x2="395.40" y2="330.20" stroke="#1a1a1a" stroke-width="1.4" />
<text x="393.06" y="340.90" font-size="8.3" font-weight="normal" textLength="4.62" lengthAdjust="spacingAndGlyphs" fill="#111" >6</text>
<text x="390.99" y="366.80" font-size="8.4" font-weight="normal" textLength="8.88" lengthAdjust="spacingAndGlyphs" fill="#111" >36</text>
<line x1="411.90" y1="326.80" x2="411.90" y2="330.20" stroke="#1a1a1a" stroke-width="1.4" />
<text x="409.59" y="340.90" font-size="8.3" font-weight="normal" textLength="4.62" lengthAdjust="spacingAndGlyphs" fill="#111" >8</text>
<text x="407.50" y="366.80" font-size="8.4" font-weight="normal" textLength="8.88" lengthAdjust="spacingAndGlyphs" fill="#111" >39</text>
<line x1="428.40" y1="326.80" x2="428.40" y2="330.20" stroke="#1a1a1a" stroke-width="1.4" />
<path transform="translate(423.630,340.900) scale(0.004053,-0.004053)" d="M515,0 L515,1237 L197,1010 L197,1180 L530,1409 L696,1409 L696,0 Z" fill="#111" stroke="#111" stroke-width="0.25" vector-effect="non-scaling-stroke"/>
<text x="423.63" y="340.90" font-size="8.3" font-weight="normal" textLength="9.23" lengthAdjust="spacingAndGlyphs" fill="#111" > 0</text>
<line x1="444.90" y1="326.80" x2="444.90" y2="330.20" stroke="#1a1a1a" stroke-width="1.4" />
<path transform="translate(440.177,340.900) scale(0.004053,-0.004053)" d="M515,0 L515,1237 L197,1010 L197,1180 L530,1409 L696,1409 L696,0 Z" fill="#111" stroke="#111" stroke-width="0.25" vector-effect="non-scaling-stroke"/>
<text x="440.18" y="340.90" font-size="8.3" font-weight="normal" textLength="9.23" lengthAdjust="spacingAndGlyphs" fill="#111" > 2</text>
<text x="440.49" y="366.80" font-size="8.4" font-weight="normal" textLength="8.88" lengthAdjust="spacingAndGlyphs" fill="#111" >36</text>
<line x1="461.40" y1="326.80" x2="461.40" y2="330.20" stroke="#1a1a1a" stroke-width="1.4" />
<path transform="translate(456.650,340.900) scale(0.004053,-0.004053)" d="M515,0 L515,1237 L197,1010 L197,1180 L530,1409 L696,1409 L696,0 Z" fill="#111" stroke="#111" stroke-width="0.25" vector-effect="non-scaling-stroke"/>
<text x="456.65" y="340.90" font-size="8.3" font-weight="normal" textLength="9.23" lengthAdjust="spacingAndGlyphs" fill="#111" > 6</text>
<text x="457.00" y="366.80" font-size="8.4" font-weight="normal" textLength="8.88" lengthAdjust="spacingAndGlyphs" fill="#111" >39</text>
<text x="311.58" y="366.80" font-size="8.4" font-weight="normal" textLength="8.23" lengthAdjust="spacingAndGlyphs" fill="#111" >N:</text>
<text x="344.91" y="354.30" font-size="9.7" font-weight="normal" textLength="101.01" lengthAdjust="spacingAndGlyphs" fill="#111" >Weeks after IL–2 initiation</text>
<text transform="translate(277.00,298.45) rotate(-90)" x="-0.19" y="0" font-size="9.4" font-weight="normal" textLength="59.07" lengthAdjust="spacingAndGlyphs" fill="#111" >Treg cell count,</text>
<text transform="translate(289.30,302.55) rotate(-90)" x="-0.57" y="0" font-size="9.4" font-weight="normal" textLength="68.35" lengthAdjust="spacingAndGlyphs" fill="#111" >plasma IL–2 level</text>
<text transform="translate(512.30,305.25) rotate(-90)" x="-0.40" y="0" font-size="10.2" font-weight="normal" textLength="73.99" lengthAdjust="spacingAndGlyphs" fill="#111" >Soluble IL-2R level</text>
<text x="387.48" y="230.80" font-size="8.3" font-weight="normal" textLength="49.66" lengthAdjust="spacingAndGlyphs" fill="#111" >Treg (cells/uL)</text>
<text x="366.72" y="261.80" font-size="8.3" font-weight="normal" textLength="48.49" lengthAdjust="spacingAndGlyphs" fill="#111" >Plasma IL–2R</text>
<text x="380.08" y="270.90" font-size="8.3" font-weight="normal" textLength="23.75" lengthAdjust="spacingAndGlyphs" fill="#111" >(pg/ml)</text>
<text x="380.91" y="307.60" font-size="8.3" font-weight="normal" textLength="69.62" lengthAdjust="spacingAndGlyphs" fill="#111" >Plasma IL–2 (pg/ml)</text>
<polyline points="329.40,320.71 345.90,307.47 362.40,313.09 378.90,310.01 395.40,310.78 411.90,315.02 428.40,313.09 444.90,311.17 461.40,319.64" fill="none" stroke="#000" stroke-width="1.4" stroke-linejoin="round" />
<polyline points="329.40,310.78 345.90,278.44 362.40,232.24 378.90,221.46 395.40,249.95 411.90,245.56 428.40,259.57 444.90,268.05 461.40,299.23" fill="none" stroke="#000" stroke-width="1.4" stroke-dasharray="6.1,6.1" stroke-linejoin="round" />
<polyline points="329.40,299.23 345.90,247.64 362.40,236.09 378.90,239.94 395.40,250.72 411.90,254.57 428.40,261.65 444.90,273.59 461.40,297.69" fill="none" stroke="#000" stroke-width="1.4" stroke-dasharray="6.1,4.6,1.5,4.6" stroke-linejoin="round" />
<line x1="320.50" y1="279.30" x2="320.50" y2="285.00" stroke="#000" stroke-width="1.4" />
<line x1="320.50" y1="298.00" x2="320.50" y2="303.00" stroke="#000" stroke-width="1.4" />
<circle cx="320.5" cy="290.3" r="2.4" fill="#000"/>
<path d="M318.9,289 L320.5,286.4 L322.1,289 Z" fill="#000"/>
<path d="M319.0,308.5 L320.5,306.2 L322.0,308.5 Z" fill="#000"/>
<circle cx="320.5" cy="313.0" r="0.6" fill="#000"/>
<circle cx="320.5" cy="309.7" r="2.3" fill="#000"/>
<circle cx="320.5" cy="320.2" r="2.3" fill="#000"/>
</svg>
</body></html>
